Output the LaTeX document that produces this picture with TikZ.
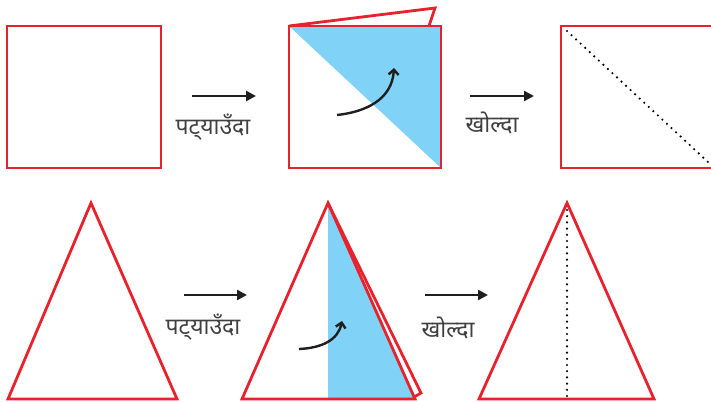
\documentclass[tikz,border=0pt]{standalone}
\usepackage{fontspec}
\newfontfamily\devfont[Script=Devanagari]{Noto Sans}
\usetikzlibrary{arrows.meta}
\definecolor{paperred}{HTML}{E8222C}
\definecolor{foldblue}{HTML}{80D2F6}
\definecolor{txtgray}{HTML}{404040}
\tikzset{
  edge/.style={draw=paperred, line width=2.8pt, line join=miter},
  fold/.style={fill=foldblue, draw=none},
  steparrow/.style={line width=2.4pt, -{Triangle[length=10pt,width=10pt]}, black!88},
  turnarrow/.style={line width=2.4pt, -{Straight Barb[length=5pt,width=10pt]}, black!88},
  creaseline/.style={black, line width=2.4pt, dash pattern=on 0pt off 6.2pt, line cap=round},
  label/.style={font=\devfont\fontsize{23}{26}\selectfont, text=txtgray, inner sep=0pt}
}
\begin{document}
\begin{tikzpicture}[x=1pt,y=-1pt]
\useasboundingbox (0,0) rectangle (711,401);
% Row 1
\draw[edge] (7,26) rectangle (161,168);
\coordinate (a1s) at (192,96); \coordinate (a1e) at (256,96);
\draw[steparrow] (a1s) -- (a1e);
\node[label] (t1) at (213,127) {पट्^^^^200cयाउँदा};
% folded square
\fill[fold] (289,26) -- (441,26) -- (441,168) -- cycle;
\draw[edge] (289,26) -- (435,8) -- (429,26);
\draw[edge] (289,26) rectangle (441,168);
\coordinate (c1s) at (337,115); \coordinate (c1e) at (394,68);
\draw[turnarrow] (c1s) .. controls (365,112) and (392,100) .. (c1e);
\coordinate (a2s) at (470,96); \coordinate (a2e) at (534,96);
\draw[steparrow] (a2s) -- (a2e);
\node[label] (t2) at (492,123) {खोल्दा};
% unfolded square
\draw[edge] (713,26) -- (561,26) -- (561,168) -- (713,168);
\coordinate (d1s) at (567,31); \coordinate (d1e) at (708,162);
\draw[creaseline] (d1s) -- (d1e);
% Row 2
\draw[edge] (91,203) -- (8,399) -- (177,399) -- cycle;
\coordinate (a3s) at (184,295); \coordinate (a3e) at (247,295);
\draw[steparrow] (a3s) -- (a3e);
\node[label] (t3) at (203,327) {पट्^^^^200cयाउँदा};
% folded triangle
\fill[fold] (328,203) -- (328,399) -- (415,399) -- cycle;
\draw[edge] (328,203) -- (421,393) -- (414,397);
\draw[edge] (328,203) -- (242,399) -- (415,399) -- cycle;
\coordinate (c2s) at (299,349); \coordinate (c2e) at (342,321);
\draw[turnarrow] (c2s) .. controls (322,348) and (338,340) .. (c2e);
\coordinate (a4s) at (425,295); \coordinate (a4e) at (488,295);
\draw[steparrow] (a4s) -- (a4e);
\node[label] (t4) at (448,328) {खोल्दा};
% unfolded triangle
\draw[edge] (567,203) -- (479,399) -- (654,399) -- cycle;
\coordinate (d2s) at (567,210); \coordinate (d2e) at (567,399);
\draw[creaseline] (d2s) -- (d2e);
\end{tikzpicture}
\end{document}
